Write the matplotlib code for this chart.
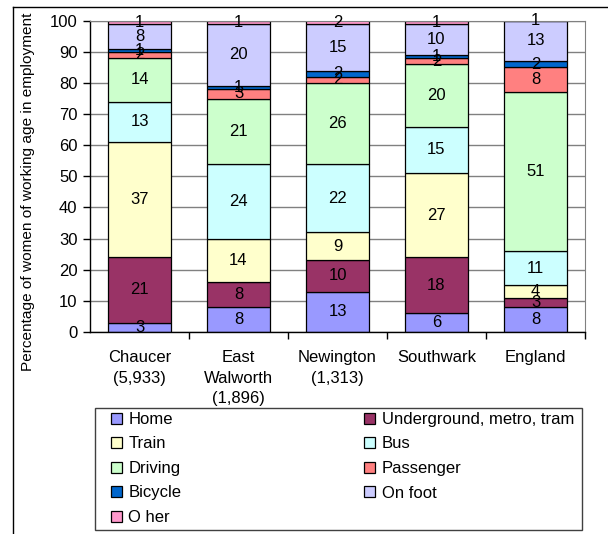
import matplotlib
matplotlib.use("Agg")
import matplotlib.pyplot
import matplotlib.lines
import matplotlib.patches

matplotlib.pyplot.rcParams["font.family"] = ["Liberation Sans", "DejaVu Sans"]

# areas along the x axis (number of women in brackets)
areas = ["Chaucer\n(5,933)", "East\nWalworth\n(1,896)", "Newington\n(1,313)", "Southwark", "England"]
modes = ["Home", "Underground, metro, tram", "Train", "Bus", "Driving",
         "Passenger", "Bicycle", "On foot", "O her"]

# percentages, one list per mode of travel, in stacking order
home = [3, 8, 13, 6, 8]
underground = [21, 8, 10, 18, 3]
train = [37, 14, 9, 27, 4]
bus = [13, 24, 22, 15, 11]
driving = [14, 21, 26, 20, 51]
passenger = [2, 3, 2, 2, 8]
bicycle = [1, 1, 2, 1, 2]
on_foot = [8, 20, 15, 10, 13]
other = [1, 1, 2, 1, 1]

colours = ["#9999FF", "#993366", "#FFFFCC", "#CCFFFF", "#CCFFCC",
           "#FF8080", "#0066CC", "#CCCCFF", "#FF99CC"]
y_ticks = list(range(0, 101, 10))

W, H = 608.0, 534.0
FS = 12


def px(x, y):
    # pixel position (from top left) -> figure fraction
    return x/W, 1.0-y/H


def plot_modes():
    figure = matplotlib.pyplot.figure(figsize=(W/100, H/100), dpi=100)
    axes = figure.add_axes([90/W, 202/H, 495/W, 311.3/H])

    series = [home, underground, train, bus, driving, passenger, bicycle, on_foot, other]
    x_pos = list(range(len(areas)))
    bottom = [0]*len(areas)
    handles = []
    for name, values, colour in zip(modes, series, colours):
        bars = axes.bar(x_pos, values, 0.63, bottom=bottom, color=colour,
                        edgecolor="black", linewidth=0.9, label=name, zorder=2)
        texts = axes.bar_label(bars, labels=[str(v) for v in values],
                               label_type="center", fontsize=FS)
        for text in texts:
            text.set_annotation_clip(False)
        handles.append(bars)
        bottom = [b+v for b, v in zip(bottom, values)]

    axes.set_xlim(-0.5, len(areas)-0.5)
    axes.set_ylim(0, 100)
    axes.set_yticks(y_ticks)
    axes.tick_params(axis="y", direction="out", length=5, width=1, labelsize=FS, pad=4)

    # tick marks between the categories, labels in the middle
    axes.set_xticks([i+0.5 for i in range(len(areas))])
    axes.set_xticklabels([])
    axes.tick_params(axis="x", which="major", direction="out", length=5, width=1)
    axes.set_xticks(x_pos, minor=True)
    axes.set_xticklabels(areas, minor=True, fontsize=FS, linespacing=1.47)
    axes.tick_params(axis="x", which="minor", length=0, pad=13)

    axes.yaxis.grid(True, color="#808080", linewidth=1, zorder=0)
    axes.set_axisbelow(True)
    for side in ["top", "right"]:
        axes.spines[side].set_color("#808080")
    for side in ["left", "bottom"]:
        axes.spines[side].set_color("black")
        axes.spines[side].set_linewidth(1)

    x0, y0 = px(28, 371)
    figure.text(x0, y0, "Percentage of women of working age in employment",
                rotation=90, ha="center", va="bottom", fontsize=11.1)

    # legend frame drawn by hand, entries placed inside it
    fx, fy = px(95, 530)
    figure.add_artist(matplotlib.patches.Rectangle((fx, fy), 487/W, 122/H,
                                                   transform=figure.transFigure,
                                                   facecolor="white", edgecolor="#404040",
                                                   linewidth=1, zorder=1))
    # legend is filled row by row in the reference
    order = [0, 2, 4, 6, 8, 1, 3, 5, 7]
    lx, ly = px(111, 528)
    legend = figure.legend([handles[i] for i in order], [modes[i] for i in order],
                           ncol=2, loc="upper left", mode="expand",
                           bbox_to_anchor=(lx, ly, 463/W, 116/H), borderaxespad=0,
                           borderpad=0, fontsize=FS, handlelength=0.65, handleheight=0.65,
                           handletextpad=0.4, labelspacing=0.57, frameon=False)
    legend.set_zorder(2)

    # outer chart border (left and top only are visible)
    figure.add_artist(matplotlib.lines.Line2D([12.5/W, 12.5/W], [0, 1-7/H],
                                              color="black", linewidth=1))
    figure.add_artist(matplotlib.lines.Line2D([12.5/W, 1], [1-7/H, 1-7/H],
                                              color="black", linewidth=1))

    figure.savefig("out.png", dpi=100)


def main():
    plot_modes()


if __name__ == "__main__":
    main()
